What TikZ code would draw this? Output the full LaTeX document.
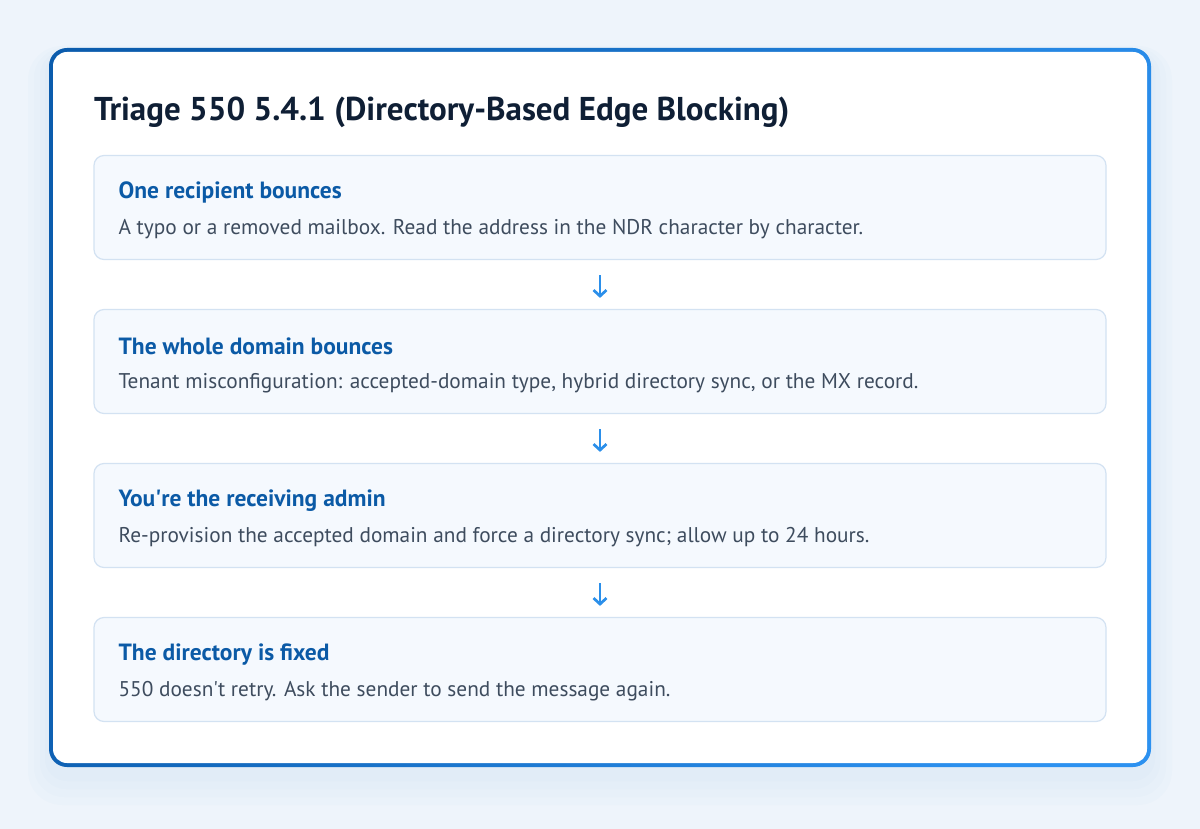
\documentclass[tikz,border=0pt]{standalone}
\usepackage{fontspec}
\setmainfont{PT Sans}
\usepackage{tikz}
\usetikzlibrary{arrows.meta,positioning}
\definecolor{pageback}{HTML}{EEF4FB}
\definecolor{framedark}{HTML}{0B5CAD}
\definecolor{framelight}{HTML}{2C91F0}
\definecolor{titleink}{HTML}{0F1F35}
\definecolor{headink}{HTML}{0B5AA6}
\definecolor{bodyink}{HTML}{3E4C5E}
\definecolor{stepfill}{HTML}{F5F9FE}
\definecolor{stepline}{HTML}{D3E2F2}
\definecolor{flowink}{HTML}{2B8FEA}
\tikzset{
  stepbox/.style={draw=stepline, line width=1.2pt, fill=stepfill, rounded corners=10pt,
    minimum width=1012pt, minimum height=104pt, inner sep=0pt},
  stephead/.style={right, inner sep=0pt, font=\fontsize{23.5}{28}\selectfont\bfseries, text=headink},
  steptext/.style={right, inner sep=0pt, font=\fontsize{21.3}{26}\selectfont, text=bodyink},
  flow/.style={draw=flowink, line width=2.7pt, -{Straight Barb[length=6pt,width=13pt,line width=2.7pt]},
    shorten <=15pt, shorten >=11pt}
}
\begin{document}
\begin{tikzpicture}[x=1pt,y=-1pt]
\useasboundingbox (0,0) rectangle (1200,829);
\fill[pageback] (0,0) rectangle (1200,829);
% soft shadow under the card
\fill[framelight, opacity=0.015, rounded corners=34pt] (28,46) rectangle (1172,805);
\fill[framelight, opacity=0.015, rounded corners=30pt] (34,48) rectangle (1166,797);
\fill[framelight, opacity=0.015, rounded corners=26pt] (40,50) rectangle (1160,789);
\fill[framelight, opacity=0.015, rounded corners=22pt] (45,52) rectangle (1155,781);
% card with graded frame
\shade[left color=framedark, right color=framelight, shading angle=70, rounded corners=18pt]
  (49,48) rectangle (1151,767);
\fill[white, rounded corners=14pt] (53,52) rectangle (1147,763);
\node[right, inner sep=0pt, font=\fontsize{33}{38}\selectfont\bfseries, text=titleink] (title) at (94,112)
  {Triage 550 5.4.1 (Directory-Based Edge Blocking)};

\node[stepbox] (box1) at (600,207.5) {};
\node[stepbox] (box2) at (600,361.5) {};
\node[stepbox] (box3) at (600,515.5) {};
\node[stepbox] (box4) at (600,669.5) {};

\node[stephead] (head1) at ([xshift=25pt,yshift=-37.5pt]box1.north west) {One recipient bounces};
\node[steptext] (text1) at ([xshift=25pt,yshift=-74.5pt]box1.north west)
  {A typo or a removed mailbox. Read the address in the NDR character by character.};
\node[stephead] (head2) at ([xshift=25pt,yshift=-37.5pt]box2.north west) {The whole domain bounces};
\node[steptext] (text2) at ([xshift=25pt,yshift=-74.5pt]box2.north west)
  {Tenant misconfiguration: accepted-domain type, hybrid directory sync, or the MX record.};
\node[stephead] (head3) at ([xshift=25pt,yshift=-37.5pt]box3.north west) {You\textquotesingle re the receiving admin};
\node[steptext] (text3) at ([xshift=25pt,yshift=-74.5pt]box3.north west)
  {Re-provision the accepted domain and force a directory sync; allow up to 24 hours.};
\node[stephead] (head4) at ([xshift=25pt,yshift=-37.5pt]box4.north west) {The directory is fixed};
\node[steptext] (text4) at ([xshift=25pt,yshift=-74.5pt]box4.north west)
  {550 doesn\textquotesingle t retry. Ask the sender to send the message again.};

\draw[flow] (box1) -- (box2);
\draw[flow] (box2) -- (box3);
\draw[flow] (box3) -- (box4);
\end{tikzpicture}
\end{document}
